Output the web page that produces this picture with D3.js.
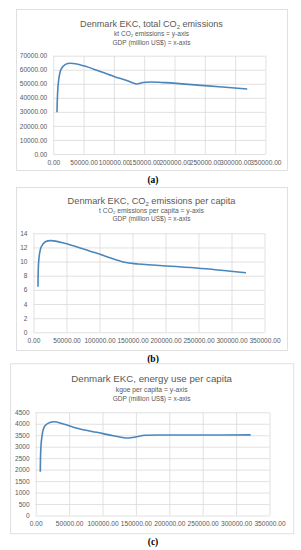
<!DOCTYPE html>
<html>
<head>
<meta charset="utf-8">
<script src="https://cdn.jsdelivr.net/npm/d3@7"></script>
<style>
  body { margin: 0; background: #fff; }
  svg { display: block; font-family: "Liberation Sans", Arial, sans-serif; }
</style>
</head>
<body>
<script>
// values
var gdpA = [6100, 8300, 12700, 20000, 29000, 50000, 74000, 100000, 120000, 137000, 148000, 160000, 185000, 250000, 320000];
var co2Total = [29700, 50500, 60300, 63800, 64600, 62800, 59300, 55200, 52500, 49900, 50900, 51300, 50800, 48700, 46300];

var gdpB = [6800, 8300, 11800, 18000, 27000, 47000, 72000, 108000, 138000, 158000, 247000, 322000];
var co2PerCapita = [6.45, 10.5, 12.1, 12.8, 12.96, 12.6, 11.9, 10.8, 9.9, 9.66, 9.1, 8.43];

var gdpC = [6900, 9000, 13900, 26300, 41300, 66300, 91300, 116200, 138600, 151200, 163600, 200000, 260000, 321800];
var energyPerCapita = [1909, 3365, 3914, 4089, 3989, 3770, 3627, 3479, 3378, 3435, 3496, 3510, 3512, 3515];

var xTicks = [0, 50000, 100000, 150000, 200000, 250000, 300000, 350000];
var yTicksA = [0, 10000, 20000, 30000, 40000, 50000, 60000, 70000];
var yTicksB = [0, 2, 4, 6, 8, 10, 12, 14];
var yTicksC = [0, 500, 1000, 1500, 2000, 2500, 3000, 3500, 4000, 4500];

var titles = [
  ["Denmark EKC, total CO", "2", " emissions"],
  ["Denmark EKC, CO", "2", " emissions per capita"],
  ["Denmark EKC, energy use per capita"]
];
var subtitles = [
  [["kt CO", "2", " emissions = y-axis"], ["GDP (million US$) = x-axis"]],
  [["t CO", "2", " emissions per capita = y-axis"], ["GDP (million US$) = x-axis"]],
  [["kgoe per capita = y-axis"], ["GDP (million US$) = x-axis"]]
];
var panelLabels = ["(a)", "(b)", "(c)"];

var width = 301, height = 550;
var textColor = "#595959", gridColor = "#d9d9d9", lineColor = "#4a86bc";

var svg = d3.select("body").append("svg")
  .attr("width", width)
  .attr("height", height);

// layout of the three boxes
var panels = [
  { box: [16, 9, 287, 170], plot: [53.3, 55.7, 265.4, 154], titleY: 26.5, subY: [35.5, 44.5], labelY: 183,
    xs: gdpA, ys: co2Total, yTicks: yTicksA, yFmt: d3.format(".2f"), titleW: 143, subW: [75, 78] },
  { box: [16, 187, 287, 350], plot: [33.5, 233.3, 264.5, 332.3], titleY: 203.5, subY: [212.5, 221], labelY: 361.5,
    xs: gdpB, ys: co2PerCapita, yTicks: yTicksB, yFmt: d3.format("d"), titleW: 168, subW: [105, 78] },
  { box: [10, 363.3, 293.3, 533.3], plot: [35.7, 412.3, 269.5, 515.5], titleY: 381.5, subY: [391.5, 400.5], labelY: 544.5,
    xs: gdpC, ys: energyPerCapita, yTicks: yTicksC, yFmt: d3.format("d"), titleW: 161, subW: [72, 78] }
];

function writeRich(textSel, parts, size) {
  textSel.attr("font-size", size);
  parts.forEach(function(p, i) {
    var t = textSel.append("tspan").text(p);
    if (i === 1 && parts.length === 3) {
      t.attr("font-size", size * 0.65).attr("dy", size * 0.25);
    } else if (i === 2) {
      t.attr("dy", -size * 0.25);
    }
  });
}

// scale the font so the text takes the width seen in the picture
function fitText(textSel, parts, targetW, baseSize) {
  writeRich(textSel, parts, baseSize);
  var w = textSel.node().getComputedTextLength();
  var s = baseSize * targetW / w;
  textSel.selectAll("tspan").remove();
  writeRich(textSel, parts, s);
}

panels.forEach(function(p, k) {
  var cx = (p.box[0] + p.box[2]) / 2;

  svg.append("rect")
    .attr("x", p.box[0] + 0.5)
    .attr("y", p.box[1] + 0.5)
    .attr("width", p.box[2] - p.box[0])
    .attr("height", p.box[3] - p.box[1])
    .attr("fill", "#fff")
    .attr("stroke", gridColor)
    .attr("stroke-width", 0.8);

  var x = d3.scaleLinear().domain([0, 350000]).range([p.plot[0], p.plot[2]]);
  var y = d3.scaleLinear().domain([0, d3.max(p.yTicks)]).range([p.plot[3], p.plot[1]]);

  // y gridlines and labels
  var gy = svg.append("g")
    .attr("transform", "translate(" + p.plot[0] + ",0)")
    .call(d3.axisLeft(y).tickValues(p.yTicks).tickFormat(p.yFmt)
      .tickSize(-(p.plot[2] - p.plot[0])).tickPadding(6));
  // x gridlines and labels
  var gx = svg.append("g")
    .attr("transform", "translate(0," + p.plot[3] + ")")
    .call(d3.axisBottom(x).tickValues(xTicks).tickFormat(d3.format(".2f"))
      .tickSize(-(p.plot[3] - p.plot[1])).tickPadding(6));

  [gx, gy].forEach(function(g) {
    g.select(".domain").remove();
    g.selectAll(".tick line").attr("stroke", gridColor).attr("stroke-width", 0.8);
    g.selectAll(".tick text")
      .attr("fill", textColor)
      .attr("font-size", 6.6)
      .attr("font-family", "Liberation Sans, Arial, sans-serif");
  });

  // data line
  var line = d3.line()
    .x(function(d) { return x(d[0]); })
    .y(function(d) { return y(d[1]); })
    .curve(d3.curveCatmullRom.alpha(0.5));

  svg.append("path")
    .datum(d3.zip(p.xs, p.ys))
    .attr("d", line)
    .attr("fill", "none")
    .attr("stroke", lineColor)
    .attr("stroke-width", 1.6)
    .attr("stroke-linejoin", "round");

  // titles
  var t = svg.append("text")
    .attr("x", cx).attr("y", p.titleY)
    .attr("text-anchor", "middle")
    .attr("fill", textColor);
  fitText(t, titles[k], p.titleW, 10);

  subtitles[k].forEach(function(parts, j) {
    var s = svg.append("text")
      .attr("x", cx).attr("y", p.subY[j])
      .attr("text-anchor", "middle")
      .attr("fill", textColor);
    fitText(s, parts, p.subW[j], 6);
  });

  svg.append("text")
    .attr("x", 153).attr("y", p.labelY)
    .attr("text-anchor", "middle")
    .attr("font-family", "Liberation Serif, Times New Roman, serif")
    .attr("font-weight", "bold")
    .attr("font-size", 9.5)
    .attr("fill", "#000")
    .text(panelLabels[k]);
});
</script>
</body>
</html>
